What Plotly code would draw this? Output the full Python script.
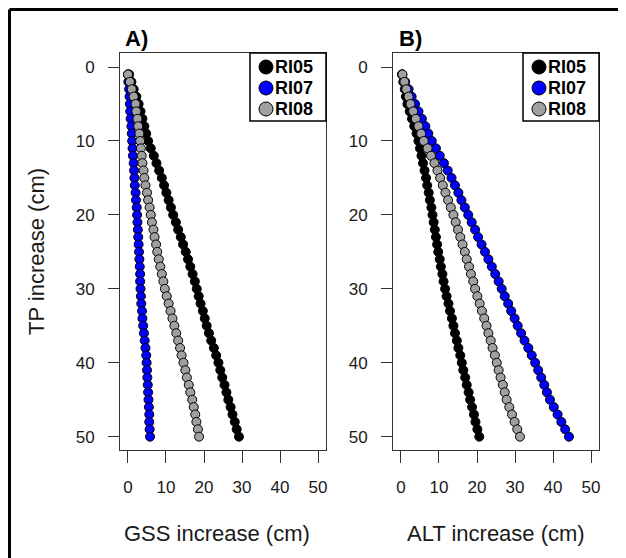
import plotly.graph_objects as go
from plotly.subplots import make_subplots

# TP increase (cm), shared y values for every series
tp = [1, 2, 3, 4, 5, 6, 7, 8, 9, 10, 11, 12, 13, 14, 15, 16, 17, 18, 19, 20,
      21, 22, 23, 24, 25, 26, 27, 28, 29, 30, 31, 32, 33, 34, 35, 36, 37, 38, 39, 40,
      41, 42, 43, 44, 45, 46, 47, 48, 49, 50]

# panel A: GSS increase (cm)
gss_ri05 = [0.3, 0.9, 1.5, 2.2, 2.8, 3.3, 3.8, 4.3, 4.8, 5.3, 6.0, 6.8, 7.5, 8.2, 8.9, 9.5, 10.1, 10.7, 11.3, 11.9,
            12.6, 13.2, 13.9, 14.5, 15.2, 15.8, 16.4, 17.0, 17.6, 18.1, 18.6, 19.1, 19.7, 20.2, 20.7, 21.3, 21.9, 22.6, 23.2, 23.8,
            24.3, 24.8, 25.4, 25.9, 26.4, 27.0, 27.5, 28.1, 28.6, 29.2]
gss_ri07 = [0.0, 0.1, 0.3, 0.4, 0.5, 0.6, 0.7, 0.9, 1.0, 1.1, 1.2, 1.3, 1.5, 1.6, 1.7, 1.8, 2.0, 2.1, 2.3, 2.4,
            2.5, 2.6, 2.7, 2.8, 2.9, 3.0, 3.1, 3.2, 3.2, 3.3, 3.4, 3.5, 3.7, 3.8, 4.0, 4.2, 4.4, 4.6, 4.8, 4.9,
            5.0, 5.1, 5.2, 5.3, 5.4, 5.5, 5.6, 5.6, 5.7, 5.8]
gss_ri08 = [0.0, 0.5, 1.0, 1.5, 2.0, 2.2, 2.5, 2.7, 3.0, 3.2, 3.4, 3.6, 3.8, 4.1, 4.3, 4.6, 5.0, 5.3, 5.7, 6.0,
            6.3, 6.7, 7.0, 7.4, 7.7, 8.1, 8.5, 8.9, 9.3, 9.7, 10.2, 10.7, 11.2, 11.7, 12.2, 12.7, 13.2, 13.7, 14.1, 14.6,
            15.1, 15.5, 16.0, 16.4, 16.9, 17.3, 17.7, 18.0, 18.4, 18.7]

# panel B: ALT increase (cm)
alt_ri05 = [0.3, 0.6, 1.0, 1.3, 1.7, 2.3, 2.9, 3.5, 4.1, 4.6, 5.0, 5.4, 5.8, 6.2, 6.6, 6.9, 7.3, 7.6, 8.0, 8.3,
            8.6, 8.9, 9.2, 9.5, 9.8, 10.2, 10.5, 10.9, 11.2, 11.6, 12.0, 12.5, 12.9, 13.4, 13.8, 14.2, 14.7, 15.1, 15.6, 16.0,
            16.4, 16.9, 17.3, 17.8, 18.2, 18.7, 19.2, 19.6, 20.1, 20.6]
alt_ri07 = [0.3, 1.1, 2.0, 2.8, 3.7, 4.6, 5.5, 6.4, 7.2, 8.1, 9.2, 10.2, 11.3, 12.3, 13.3, 14.2, 15.1, 15.9, 16.8, 17.7,
            18.6, 19.5, 20.3, 21.2, 22.1, 23.0, 23.9, 24.8, 25.7, 26.5, 27.3, 28.2, 29.0, 29.9, 30.7, 31.6, 32.5, 33.5, 34.4, 35.3,
            36.1, 36.9, 37.7, 38.4, 39.2, 40.2, 41.2, 42.2, 43.2, 44.2]
alt_ri08 = [0.4, 0.9, 1.4, 2.0, 2.5, 3.2, 3.9, 4.6, 5.3, 6.0, 7.0, 7.9, 8.8, 9.6, 10.3, 11.0, 11.7, 12.4, 13.1, 13.8,
            14.4, 15.0, 15.6, 16.2, 16.8, 17.3, 17.9, 18.4, 19.0, 19.5, 20.1, 20.7, 21.3, 21.9, 22.5, 23.0, 23.6, 24.1, 24.7, 25.2,
            25.7, 26.2, 26.8, 27.3, 27.8, 28.5, 29.2, 29.9, 30.6, 31.3]

sites = ["RI05", "RI07", "RI08"]
colors = ["#000000", "#0000ff", "#a0a0a0"]
ticks = [0, 10, 20, 30, 40, 50]

# the page body has an 8px margin, so the figure is 8px smaller than the window
OFF = 8
W, H = 626 - OFF, 558 - OFF
FONT = "Liberation Sans, Arial, sans-serif"
INK = "#1a1a1a"


def px(x):
    return (x - OFF) / W


def py(y):
    return 1 - (y - OFF) / H


fig = make_subplots(rows=1, cols=2)

panels = [(1, [gss_ri05, gss_ri07, gss_ri08]), (2, [alt_ri05, alt_ri07, alt_ri08])]
for col, series in panels:
    for name, xs, c in zip(sites, series, colors):
        fig.add_trace(go.Scatter(
            x=xs, y=tp, mode="markers", name=name, showlegend=False,
            marker=dict(size=9, color=c, line=dict(color="#000000", width=1)),
        ), row=1, col=col)

# plot boxes in window pixels: A 120-326, B 393-599, top 53, bottom 450
axis_common = dict(
    showgrid=False, zeroline=False, showline=True, mirror=True,
    linecolor="#333333", linewidth=1, ticks="outside", tickcolor="#333333",
    tickvals=ticks, tickfont=dict(family=FONT, size=17, color=INK),
)
fig.update_xaxes(range=[-2.1, 52.1], ticklen=12, ticklabelstandoff=10, **axis_common)
fig.update_yaxes(range=[51.8, -1.9], ticklen=11, ticklabelstandoff=10, **axis_common)
fig.update_layout(
    xaxis=dict(domain=[px(120), px(326)]), xaxis2=dict(domain=[px(393), px(599)]),
    yaxis=dict(domain=[py(450), py(53)]), yaxis2=dict(domain=[py(450), py(53)]),
)

annotations = []
shapes = []

# hand-drawn legends, one per panel
box_w, box_h = 76, 68
rows_px = [14, 35, 56]
for xr, yr in [("x", "y"), ("x2", "y2")]:
    bx0 = 1 - box_w / 206
    shapes.append(dict(type="rect", xref=f"{xr} domain", yref=f"{yr} domain",
                       x0=bx0, x1=1, y0=1 - box_h / 397, y1=1,
                       line=dict(color="#000000", width=1.5), fillcolor="white"))
    for name, c, dy in zip(sites, colors, rows_px):
        shapes.append(dict(type="circle", xref=f"{xr} domain", yref=f"{yr} domain",
                           xsizemode="pixel", ysizemode="pixel", xanchor=bx0, yanchor=1,
                           x0=9, x1=23, y0=-dy - 7, y1=-dy + 7,
                           fillcolor=c, line=dict(color="#000000", width=1)))
        annotations.append(dict(text=f"<b>{name}</b>", xref=f"{xr} domain", yref=f"{yr} domain",
                                x=bx0, y=1, xanchor="left", yanchor="middle",
                                xshift=23, yshift=-dy, showarrow=False,
                                font=dict(family=FONT, size=18, color="#000000")))

# panel letters
for label, x in [("A)", 123), ("B)", 397)]:
    annotations.append(dict(text=f"<b>{label}</b>", xref="paper", yref="paper",
                            x=px(x), y=py(38), xanchor="left", yanchor="middle",
                            showarrow=False, font=dict(family=FONT, size=22, color="#000000")))

# axis titles
for label, x in [("GSS increase (cm)", 216.5), ("ALT increase (cm)", 496)]:
    annotations.append(dict(text=label, xref="paper", yref="paper",
                            x=px(x), y=py(533), xanchor="center", yanchor="middle",
                            showarrow=False, font=dict(family=FONT, size=22, color=INK)))
annotations.append(dict(text="TP increase (cm)", xref="paper", yref="paper",
                        x=px(37), y=py(252), xanchor="center", yanchor="middle",
                        textangle=-90, showarrow=False,
                        font=dict(family=FONT, size=22, color=INK)))

# outer frame (left and top edges only), kept just inside the figure
fx, fy = px(9.5), py(9.5)
shapes.append(dict(type="line", xref="paper", yref="paper", x0=fx, x1=fx, y0=0, y1=fy,
                   line=dict(color="#000000", width=3)))
shapes.append(dict(type="line", xref="paper", yref="paper", x0=fx, x1=1, y0=fy, y1=fy,
                   line=dict(color="#000000", width=3)))

fig.update_layout(
    width=W, height=H,
    margin=dict(l=0, r=0, t=0, b=0),
    paper_bgcolor="white", plot_bgcolor="white",
    annotations=annotations, shapes=shapes,
    showlegend=False,
)

fig.write_html("out.html")
